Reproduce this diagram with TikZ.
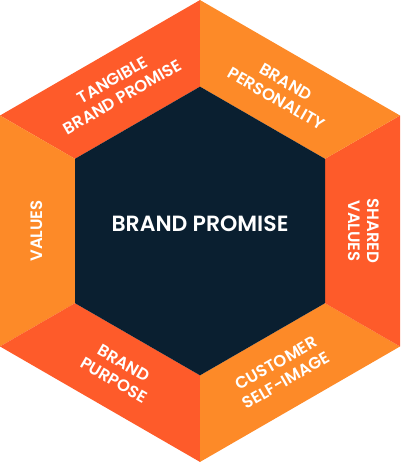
\documentclass[tikz,border=0pt]{standalone}
\usepackage{fontspec}
\setmainfont{Poppins}[BoldFont={Poppins SemiBold}]
\definecolor{segred}{HTML}{FE5B2A}
\definecolor{segorange}{HTML}{FD8A28}
\definecolor{navy}{HTML}{0A1F30}
\begin{document}
\begin{tikzpicture}[x=1pt,y=1pt,
  lbl/.style={text=white, align=center, inner sep=0pt,
    font=\bfseries\fontsize{16.5}{19.5}\selectfont},
  redseg/.style={fill=segred},
  orangeseg/.style={fill=segorange}]
\useasboundingbox (0,0) rectangle (400,462);
% outer vertices
\coordinate (o0) at (200,461.94);
\coordinate (o1) at (0,346.47);
\coordinate (o2) at (0,115.53);
\coordinate (o3) at (200,0.06);
\coordinate (o4) at (400,115.53);
\coordinate (o5) at (400,346.47);
% inner vertices
\coordinate (i0) at (200,375.34);
\coordinate (i1) at (75,303.17);
\coordinate (i2) at (75,158.83);
\coordinate (i3) at (200,86.66);
\coordinate (i4) at (325,158.83);
\coordinate (i5) at (325,303.17);
% segments
\fill[redseg] (o0) -- (o1) -- (i1) -- (i0) -- cycle;
\fill[orangeseg] (o1) -- (o2) -- (i2) -- (i1) -- cycle;
\fill[redseg] (o2) -- (o3) -- (i3) -- (i2) -- cycle;
\fill[orangeseg] (o3) -- (o4) -- (i4) -- (i3) -- cycle;
\fill[redseg] (o4) -- (o5) -- (i5) -- (i4) -- cycle;
\fill[orangeseg] (o5) -- (o0) -- (i0) -- (i5) -- cycle;
% core
\fill[navy] (i0) -- (i1) -- (i2) -- (i3) -- (i4) -- (i5) -- cycle;
% labels
\node[text=white, inner sep=0pt, anchor=base, font=\bfseries\fontsize{22}{26}\selectfont] (core) at (200,230.3) {BRAND PROMISE};
\node[lbl, rotate=30] (tangible) at (117.5,373.5) {TANGIBLE\\BRAND PROMISE};
\node[lbl, rotate=-30] (personality) at (281.25,371.7) {BRAND\\PERSONALITY};
\node[lbl, rotate=-90] (shared) at (364,231) {SHARED\\VALUES};
\node[lbl, rotate=90] (values) at (36.5,231) {VALUES};
\node[lbl, rotate=-30] (purpose) at (118.75,90.3) {BRAND\\PURPOSE};
\node[lbl, rotate=30] (selfimage) at (281.25,90.3) {CUSTOMER\\SELF-IMAGE};
\end{tikzpicture}
\end{document}
